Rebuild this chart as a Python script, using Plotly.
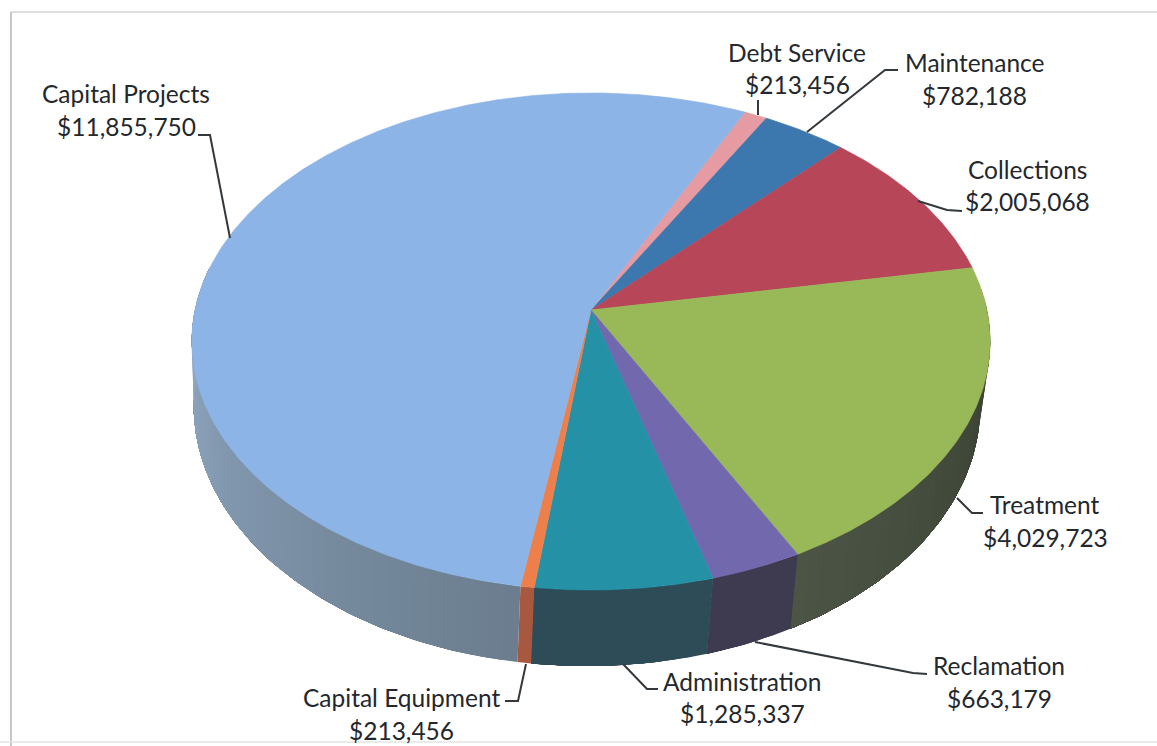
import math
import plotly.graph_objects as go

# ---- data (clockwise, starting after Capital Projects' trailing edge)
categories = ["Debt Service", "Maintenance", "Collections", "Treatment",
              "Reclamation", "Administration", "Capital Equipment", "Capital Projects"]
values = [213456, 782188, 2005068, 4029723, 663179, 1285337, 213456, 11855750]
# the reference draws Capital Equipment thinner than its printed figure; slice size
drawn_values = [213456, 782188, 2005068, 4029723, 663179, 1285337, 100000, 11855750]

# ---- styles
top_colors = ["#E69AA2", "#3C78AE", "#B74658", "#99B958", "#7268AE", "#2491A6", "#EE7F4B", "#8DB4E6"]
wall_near = ["#888888", "#2F5A80", "#7A2F3C", "#4C5445", "#3E3B50", "#2D4C58", "#A8583F", "#667888"]
wall_far = ["#888888", "#2F5A80", "#7A2F3C", "#3C4536", "#3E3B50", "#2D4C58", "#A8583F", "#90A8C2"]

# ---- layout of the tilted disc, in page pixels
CX, CY = 591, 310
A, B, P = 396.0, 244.6, -0.1267
ROT, WARP, PHASE, WARP2 = 29.5, 3.9, 10, 0.6
WALL_SHIFT, WALL_SCALE, WALL_D0, WALL_D1 = -4.0, 0.985, 63.0, 13.0

label_pos = {  # name centre, value centre
    "Capital Projects": (126, 93, 126, 126),
    "Debt Service": (797, 52, 797, 84),
    "Maintenance": (975, 62, 974, 95),
    "Collections": (1027, 169, 1027, 201),
    "Treatment": (1045, 504, 1045, 537),
    "Reclamation": (999, 665, 999, 698),
    "Administration": (742, 681, 742, 713),
    "Capital Equipment": (401, 697, 401, 730),
}
leaders = [
    [(198, 135), (210, 135), (230, 238)],
    [(758, 100), (758, 115)],
    [(898, 70), (885, 70), (807, 132)],
    [(962, 211), (947, 210), (918, 201)],
    [(983, 513), (972, 513), (957, 498)],
    [(927, 674), (913, 673), (755, 642)],
    [(658, 689), (647, 689), (623, 664)],
    [(505, 701), (518, 701), (526, 664)],
]


def screen_angle(t):
    return (t + ROT - WARP * math.cos(math.radians(t + PHASE))
            + WARP2 * math.sin(math.radians(2 * t)))


def rim(deg):
    th = math.radians(deg)
    u, v = math.sin(th), -math.cos(th)
    w = 1 + P * v
    return CX + A * u / w, CY + B * v / w, v


def lower_rim(deg):
    x, y, v = rim(deg)
    return CX + WALL_SHIFT + (x - CX) * WALL_SCALE, y + WALL_D0 + WALL_D1 * max(v, 0)


def mix(c1, c2, f):
    a = [int(c1[i:i + 2], 16) for i in (1, 3, 5)]
    b = [int(c2[i:i + 2], 16) for i in (1, 3, 5)]
    return "#" + "".join(f"{round(p + (q - p) * f):02x}" for p, q in zip(a, b))


total = sum(drawn_values)
spans = []
cum = 0.0
for val in drawn_values:
    spans.append((cum, cum + val / total * 360))
    cum += val / total * 360

fig = go.Figure()

# side wall: strips painted in order, each running on under the next, so no seams show
for i, (t0, t1) in enumerate(spans):
    a0, a1 = screen_angle(t0), screen_angle(t1)
    lo, hi = max(a0, 85), min(a1, 280)
    if lo >= hi:
        continue
    n = max(1, int((hi - lo) / 2))
    step = (hi - lo) / n
    for k in range(n):
        d0 = lo + step * k
        d1 = hi
        mid = d0 + step / 2
        f = (152 - mid) / 45 if i == 3 else abs(mid - 180) / 90
        col = mix(wall_near[i], wall_far[i], max(0, min(1, f)))
        m = max(1, int((d1 - d0) / 1))
        arc = [d0 + (d1 - d0) * j / m for j in range(m + 1)]
        top = [rim(d) for d in arc]
        low = [lower_rim(d) for d in arc]
        xs = [p[0] for p in top] + [p[0] for p in reversed(low)]
        ys = [p[1] for p in top] + [p[1] for p in reversed(low)]
        fig.add_trace(go.Scatter(
            x=xs + xs[:1], y=ys + ys[:1],
            mode="lines", fill="toself", fillcolor=col,
            line=dict(width=0), hoverinfo="skip", showlegend=False))

# top face
for i, (t0, t1) in enumerate(spans):
    a0, a1 = screen_angle(t0), screen_angle(t1)
    n = max(4, int((a1 - a0) / 0.5))
    pts = [rim(a0 + (a1 - a0) * k / n) for k in range(n + 1)]
    fig.add_trace(go.Scatter(
        x=[CX] + [p[0] for p in pts] + [CX],
        y=[CY] + [p[1] for p in pts] + [CY],
        mode="lines", fill="toself", fillcolor=top_colors[i],
        line=dict(color=top_colors[i], width=0.6),
        name=categories[i], text=f"{categories[i]}: ${values[i]:,}",
        hoverinfo="text", showlegend=False))

# leader lines
for seg in leaders:
    fig.add_trace(go.Scatter(
        x=[p[0] for p in seg], y=[p[1] for p in seg], mode="lines",
        line=dict(color="#33383c", width=2), hoverinfo="skip", showlegend=False))

# labels
FONT = dict(family="Lato", size=24.5, color="#24282c")
for name, val in zip(categories, values):
    nx, ny, vx, vy = label_pos[name]
    fig.add_annotation(x=nx, y=ny, text=name, showarrow=False, font=FONT, xanchor="center", yanchor="middle")
    fig.add_annotation(x=vx, y=vy, text=f"${val:,}", showarrow=False, font=FONT, xanchor="center", yanchor="middle")

# scanned page frame
frame = [(11, 12, 1157, 12, "#d4d4d4"), (11, 12, 11, 746, "#b4b4b4"), (0, 742, 1157, 742, "#e4e4e4")]
for x0, y0, x1, y1, c in frame:
    fig.add_shape(type="line", x0=x0, y0=y0, x1=x1, y1=y1, line=dict(color=c, width=1.5), layer="below")

fig.update_layout(
    width=1157, height=746, margin=dict(l=0, r=0, t=0, b=0, pad=0),
    paper_bgcolor="white", plot_bgcolor="white", showlegend=False,
    xaxis=dict(range=[0, 1157], visible=False, fixedrange=True),
    yaxis=dict(range=[746, 0], visible=False, fixedrange=True),
)
fig.write_html("out.html", config={"displayModeBar": False},
               post_script="document.body.style.margin='0';document.documentElement.style.overflow='hidden';")
